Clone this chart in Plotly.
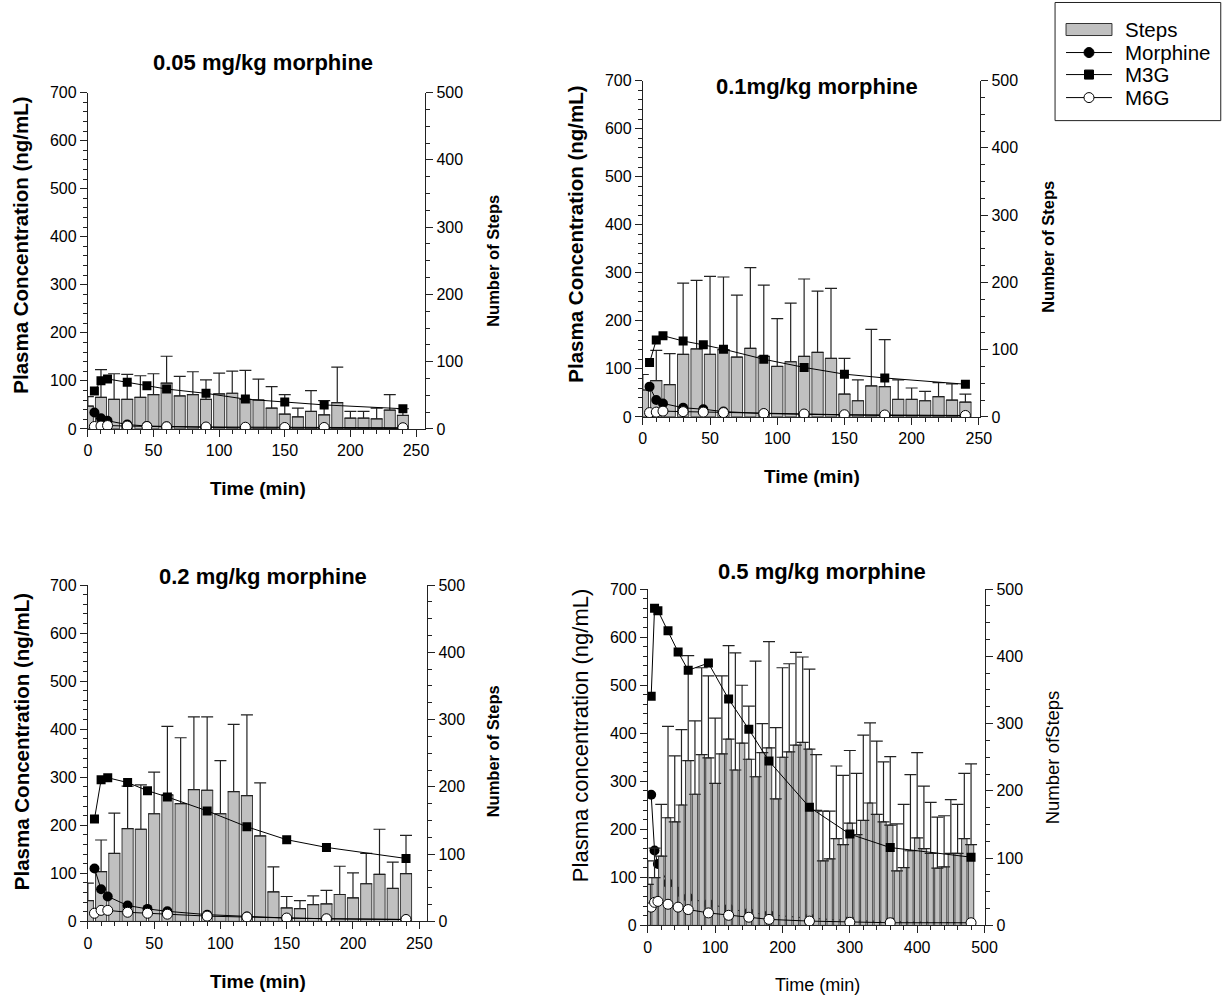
import plotly.graph_objects as go

FONT = "Liberation Sans, Arial, sans-serif"

# ---------------- data ----------------
T240 = list(range(0, 241, 10))
T480 = list(range(0, 481, 10))
PK240 = [5, 10, 15, 30, 45, 60, 90, 120, 150, 180, 240]
PK480 = [5, 10, 15, 30, 45, 60, 90, 120, 150, 180, 240, 300, 360, 480]

# 0.05 mg/kg
steps_005 = [34, 47, 44, 44, 47, 51, 68, 49, 51, 44, 52, 53, 44, 43, 31, 22, 18, 26, 21, 39, 16, 16, 15, 28, 20]
steps_005_top = [48, 88, 82, 81, 79, 82, 108, 78, 85, 73, 83, 86, 87, 74, 63, 51, 31, 57, 42, 92, 26, 26, 31, 51, 30]
morph_005 = [34, 22, 17, 9, 6, 5, 3, 2, 2, 1.5, 1]
m3g_005 = [79, 100, 104, 97, 90, 83, 74, 62, 56, 50, 42]
m6g_005 = [5, 6, 7, 6, 5, 4.5, 4, 3.5, 3, 3, 2.5]

# 0.1 mg/kg
steps_01 = [40, 54, 48, 93, 101, 93, 100, 89, 102, 90, 75, 82, 90, 96, 87, 34, 24, 46, 45, 26, 26, 24, 30, 25, 22]
steps_01_top = [63, 99, 94, 199, 203, 209, 208, 181, 222, 196, 146, 169, 205, 187, 191, 87, 55, 130, 115, 55, 43, 38, 51, 49, 34]
morph_01 = [63, 35, 28, 19, 16, 11, 7, 5, 4, 3, 2]
m3g_01 = [113, 160, 169, 158, 150, 141, 120, 103, 89, 81, 68]
m6g_01 = [9, 10, 12, 11, 10, 9, 7, 6, 4.5, 4, 3]

# 0.2 mg/kg
steps_02 = [31, 74, 101, 138, 137, 160, 188, 175, 196, 195, 160, 193, 187, 127, 44, 20, 19, 25, 26, 40, 35, 56, 70, 49, 71]
steps_02_top = [57, 121, 161, 201, 203, 222, 290, 273, 304, 304, 239, 293, 307, 206, 81, 37, 31, 38, 46, 82, 72, 101, 137, 88, 128]
morph_02 = [110, 67, 52, 33, 26, 21, 14, 10, 7, 5.5, 4]
m3g_02 = [213, 295, 299, 289, 272, 259, 230, 197, 170, 154, 131]
m6g_02 = [17, 23, 23, 19, 17, 15, 11, 9, 7, 5.5, 4]

# 0.5 mg/kg
steps_05 = [61, 71, 103, 160, 154, 179, 245, 195, 254, 249, 211, 255, 277, 231, 271, 247, 221, 257, 264, 188,
            250, 258, 268, 272, 262, 171, 96, 99, 129, 120, 152, 135, 156, 182, 165, 154, 149, 81, 86, 111,
            130, 114, 107, 85, 87, 107, 107, 129, 120]
steps_05_top = [96, 115, 180, 296, 252, 291, 401, 304, 383, 371, 308, 371, 416, 405, 357, 326, 393, 300, 422, 294,
                383, 389, 406, 399, 381, 254, 170, 170, 237, 223, 260, 226, 283, 301, 274, 243, 251, 151, 180, 224,
                257, 207, 183, 161, 163, 187, 180, 226, 240]
morph_05 = [272, 156, 128, 88, 70, 58, 45, 35, 27, 22, 15, 10, 8, 5]
m3g_05 = [477, 660, 655, 613, 569, 531, 546, 471, 408, 342, 246, 190, 162, 142]
m6g_05 = [38, 48, 50, 44, 38, 33, 26, 21, 17, 12.5, 9, 6.5, 5.5, 5.5]

LEGEND_NAMES = ["Steps", "Morphine", "M3G", "M6G"]

# ---------------- geometry ----------------
W, H = 1230, 998
# empirical page-to-photo mapping (photo = a + k * figure pixel)
AX, KX = 3.0, 0.988
AY, KY = 8.5, 0.982


def px(x):
    return ((x - AX) / KX) / W


def py(y):
    return 1 - ((y - AY) / KY) / H


panels = [
    dict(t=T240, pk=PK240, steps=steps_005, top=steps_005_top, mor=morph_005, m3=m3g_005, m6=m6g_005,
         xdom=(87, 425), ydom=(429, 93), xmax=257, xd=50, xm=10, bw=8.4, ms=9,
         title="0.05 mg/kg morphine", tpos=(262, 63), xt=(257, 489), ylt=(20, 245), yrt=(493, 261),
         ylab="Plasma Concentration (ng/mL)", yrlab="Number of Steps", bold=True, below=False),
    dict(t=T240, pk=PK240, steps=steps_01, top=steps_01_top, mor=morph_01, m3=m3g_01, m6=m6g_01,
         xdom=(643, 981), ydom=(417, 81), xmax=251, xd=50, xm=10, bw=8.4, ms=9,
         title="0.1mg/kg morphine", tpos=(818, 87), xt=(812, 477), ylt=(576, 234), yrt=(1049, 247),
         ylab="Plasma Concentration (ng/mL)", yrlab="Number of Steps", bold=True, below=False),
    dict(t=T240, pk=PK240, steps=steps_02, top=steps_02_top, mor=morph_02, m3=m3g_02, m6=m6g_02,
         xdom=(87, 427), ydom=(921, 585), xmax=256, xd=50, xm=10, bw=8.4, ms=9,
         title="0.2 mg/kg morphine", tpos=(262, 576), xt=(257, 981), ylt=(20, 741), yrt=(493, 751),
         ylab="Plasma Concentration (ng/mL)", yrlab="Number of Steps", bold=True, below=False),
    dict(t=T480, pk=PK480, steps=steps_05, top=steps_05_top, mor=morph_05, m3=m3g_05, m6=m6g_05,
         xdom=(648, 986), ydom=(925, 589), xmax=501, xd=100, xm=20, bw=8.0, ms=9,
         title="0.5 mg/kg morphine", tpos=(823, 571), xt=(818, 985), ylt=(580, 735), yrt=(1053, 757),
         ylab="Plasma concentration (ng/mL)", yrlab="Number ofSteps", bold=False, below=True),
]

fig = go.Figure()
layout = dict(width=W, height=H, margin=dict(l=0, r=0, t=0, b=0), paper_bgcolor="white",
              plot_bgcolor="rgba(0,0,0,0)", font=dict(family=FONT, size=16, color="black"),
              showlegend=False, annotations=[], shapes=[], barmode="overlay")

axis_common = dict(showline=True, linecolor="#222", linewidth=1, ticks="outside", tickcolor="#222",
                   ticklen=7, tickwidth=1, showgrid=False, zeroline=False,
                   tickfont=dict(family=FONT, size=16, color="black"))

for i, p in enumerate(panels):
    xn = i + 1
    yb, ys, yl = 3 * i + 1, 3 * i + 2, 3 * i + 3
    xkey = "xaxis" if xn == 1 else f"xaxis{xn}"
    xref = "x" if xn == 1 else f"x{xn}"
    ybkey = "yaxis" if yb == 1 else f"yaxis{yb}"
    ybref = "y" if yb == 1 else f"y{yb}"
    ydom = [py(p["ydom"][0]), py(p["ydom"][1])]

    layout[xkey] = dict(axis_common, domain=[px(p["xdom"][0]), px(p["xdom"][1])], range=[0, p["xmax"]],
                        anchor=ybref, tick0=0, dtick=p["xd"],
                        minor=dict(dtick=p["xm"], ticks="outside", ticklen=4, tickcolor="#222", showgrid=False))
    layout[ybkey] = dict(axis_common, domain=ydom, range=[0, 700],
                         anchor=xref, side="left", tick0=0, dtick=100,
                         minor=dict(dtick=20, ticks="outside", ticklen=4, tickcolor="#222", showgrid=False))
    layout[f"yaxis{ys}"] = dict(axis_common, domain=ydom, range=[0, 500], anchor=xref, overlaying=ybref,
                                side="right", tick0=0, dtick=100,
                                minor=dict(dtick=25, ticks="outside", ticklen=4, tickcolor="#222", showgrid=False))
    layout[f"yaxis{yl}"] = dict(domain=ydom, range=[0, 700], anchor=xref, overlaying=ybref, visible=False,
                                showgrid=False, zeroline=False)

    err = [tp - s for tp, s in zip(p["top"], p["steps"])]
    mor = go.Scatter(x=p["pk"], y=p["mor"], mode="lines+markers", name="Morphine",
                     line=dict(color="black", width=1),
                     marker=dict(symbol="circle", size=p["ms"] + 1, color="black"),
                     xaxis=xref, yaxis=(ybref if p["below"] else f"y{yl}"))
    base_traces = []
    if not p["below"]:
        # empty placeholder so the base (left-axis) subplot exists
        base_traces.append(go.Scatter(x=[], y=[], mode="markers", xaxis=xref, yaxis=ybref, hoverinfo="skip"))
    bar = go.Bar(x=p["t"], y=p["steps"], width=p["bw"], name="Steps",
                 marker=dict(color="#c0c0c0", line=dict(color="#3c3c3c", width=1)),
                 error_y=dict(type="data", symmetric=False, array=err, arrayminus=[0] * len(err),
                              color="#222", thickness=1.2, width=6),
                 xaxis=xref, yaxis=f"y{ys}")
    m3 = go.Scatter(x=p["pk"], y=p["m3"], mode="lines+markers", name="M3G",
                    line=dict(color="black", width=1),
                    marker=dict(symbol="square", size=p["ms"], color="black"),
                    xaxis=xref, yaxis=f"y{yl}")
    m6 = go.Scatter(x=p["pk"], y=p["m6"], mode="lines+markers", name="M6G",
                    line=dict(color="black", width=1),
                    marker=dict(symbol="circle", size=p["ms"] + 1, color="white", line=dict(color="black", width=1)),
                    xaxis=xref, yaxis=f"y{yl}")
    if p["below"]:
        fig.add_traces([mor, bar, m3, m6])
    else:
        fig.add_traces(base_traces + [bar, mor, m3, m6])

    b = p["bold"]
    layout["annotations"] += [
        dict(text=f"<b>{p['title']}</b>", x=px(p["tpos"][0]), y=py(p["tpos"][1]), xref="paper", yref="paper",
             showarrow=False, xanchor="center", yanchor="middle", font=dict(family=FONT, size=22, color="black")),
        dict(text=("<b>Time (min)</b>" if b else "Time (min)"), x=px(p["xt"][0]), y=py(p["xt"][1]),
             xref="paper", yref="paper", showarrow=False, xanchor="center", yanchor="middle",
             font=dict(family=FONT, size=19 if b else 18, color="black")),
        dict(text=(f"<b>{p['ylab']}</b>" if b else p["ylab"]), x=px(p["ylt"][0]), y=py(p["ylt"][1]),
             xref="paper", yref="paper", showarrow=False, textangle=-90, xanchor="center", yanchor="middle",
             font=dict(family=FONT, size=20.5 if b else 22, color="black")),
        dict(text=(f"<b>{p['yrlab']}</b>" if b else p["yrlab"]), x=px(p["yrt"][0]), y=py(p["yrt"][1]),
             xref="paper", yref="paper", showarrow=False, textangle=-90, xanchor="center", yanchor="middle",
             font=dict(family=FONT, size=16.5 if b else 18.5, color="black")),
    ]

# ---------------- manual legend (box, symbols, texts) ----------------
def pr(x0, y0, x1, y1):
    return dict(x0=px(x0), x1=px(x1), y0=py(y0), y1=py(y1), xref="paper", yref="paper")


layout["shapes"] += [
    dict(type="rect", line=dict(color="#222", width=1), fillcolor="white", **pr(1056, 3, 1222, 121)),
    dict(type="rect", line=dict(color="#333", width=1), fillcolor="#c0c0c0", **pr(1067, 24, 1113, 36)),
]
for yy, kind in [(53, "dot"), (75, "sq"), (98, "open")]:
    layout["shapes"].append(dict(type="line", line=dict(color="black", width=1), **pr(1067, yy, 1113, yy)))
    if kind == "sq":
        layout["shapes"].append(dict(type="rect", line=dict(color="black", width=1), fillcolor="black",
                                     **pr(1085.5, yy - 4.5, 1094.5, yy + 4.5)))
    else:
        layout["shapes"].append(dict(type="circle", line=dict(color="black", width=1),
                                     fillcolor=("black" if kind == "dot" else "white"),
                                     **pr(1085, yy - 5, 1095, yy + 5)))
for name, yy in zip(LEGEND_NAMES, [30, 53, 75, 98]):
    layout["annotations"].append(dict(text=name, x=px(1124), y=py(yy), xref="paper", yref="paper",
                                      showarrow=False, xanchor="left", yanchor="middle",
                                      font=dict(family=FONT, size=20.5, color="black")))

fig.update_layout(**layout)
fig.write_html("out.html")
